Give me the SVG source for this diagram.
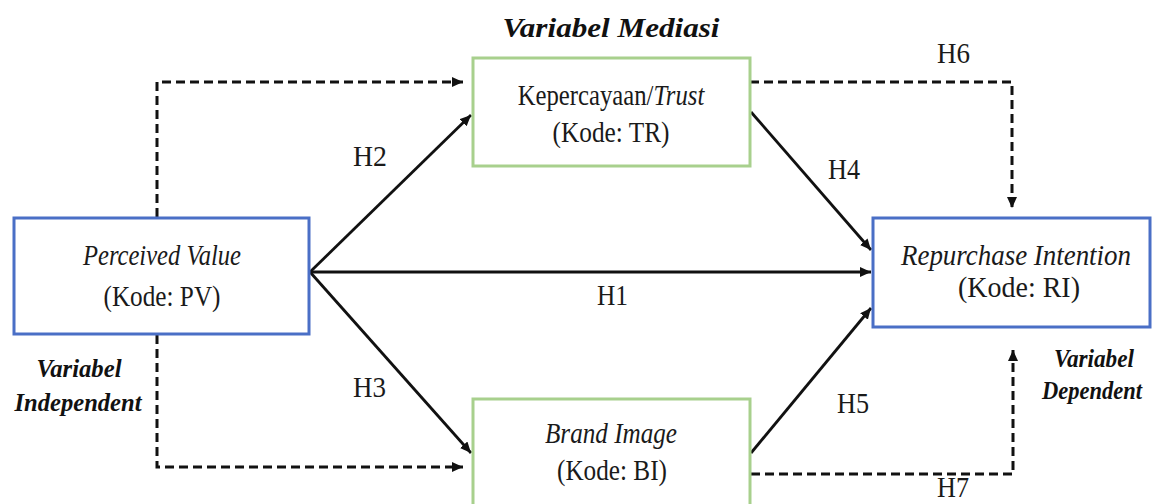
<svg xmlns="http://www.w3.org/2000/svg" width="1155" height="504" viewBox="0 0 1155 504" font-family="Liberation Serif, Tinos, Times New Roman, serif">
<style>
.bg{fill:#ffffff}
.blue{fill:#ffffff;stroke:#4a6fc6;stroke-width:3}
.green{fill:#ffffff;stroke:#a8d08d;stroke-width:3}
text{font-family:'Liberation Serif',Tinos,'Times New Roman',serif}
.t{font-size:30px;fill:#1a1a1a;text-anchor:middle}
.i{font-style:italic}
.lbl{font-size:26px;font-weight:bold;font-style:italic;fill:#111;text-anchor:middle}
.h{font-size:30px;fill:#1a1a1a}
.solid{fill:none;stroke:#111;stroke-width:2.8}
.dash{fill:none;stroke:#111;stroke-width:3;stroke-dasharray:9 5}
</style>
<defs>
<marker id="ah" markerUnits="userSpaceOnUse" markerWidth="12" markerHeight="10" refX="11" refY="5" orient="auto">
<path d="M0,0 L11,5 L0,10 z" fill="#111"/>
</marker>
</defs>
<rect class="bg" x="0" y="0" width="1155" height="504"/>
<g id="connectors">
<path class="dash" d="M157,217 V82 H463" marker-end="url(#ah)"/>
<path class="dash" d="M750,82 H1012 V208" marker-end="url(#ah)"/>
<path class="dash" d="M157,335 V467 H463" marker-end="url(#ah)"/>
<path class="dash" d="M751,474 H1013 V350" marker-end="url(#ah)"/>
<path class="solid" d="M310,272 L471,115" marker-end="url(#ah)"/>
<path class="solid" d="M310,272 L871,272" marker-end="url(#ah)"/>
<path class="solid" d="M310,272 L471,453" marker-end="url(#ah)"/>
<path class="solid" d="M751,112 L871,250" marker-end="url(#ah)"/>
<path class="solid" d="M751,453 L871,308" marker-end="url(#ah)"/>
</g>
<g id="node-pv">
<rect class="blue" x="14" y="218" width="295" height="116"/>
<text class="t i" x="162" y="265" textLength="158" lengthAdjust="spacingAndGlyphs">Perceived Value</text>
<text class="t" x="162" y="306" textLength="117" lengthAdjust="spacingAndGlyphs">(Kode: PV)</text>
</g>
<g id="node-tr">
<rect class="green" x="473" y="58" width="277" height="108"/>
<text class="t" transform="translate(611,105) scale(0.824,1)" x="0" y="0">Kepercayaan/<tspan class="i">Trust</tspan></text>
<text class="t" x="611" y="142" textLength="117" lengthAdjust="spacingAndGlyphs">(Kode: TR)</text>
</g>
<g id="node-ri">
<rect class="blue" x="873" y="218" width="277" height="109"/>
<text class="t i" x="1016" y="265" textLength="230" lengthAdjust="spacingAndGlyphs">Repurchase Intention</text>
<text class="t" x="1019" y="297" textLength="122" lengthAdjust="spacingAndGlyphs">(Kode: RI)</text>
</g>
<g id="node-bi">
<rect class="green" x="473" y="399" width="277" height="112"/>
<text class="t i" x="611" y="443" textLength="132" lengthAdjust="spacingAndGlyphs">Brand Image</text>
<text class="t" x="612" y="480" textLength="110" lengthAdjust="spacingAndGlyphs">(Kode: BI)</text>
</g>
<g id="labels">
<text class="lbl" x="611" y="37" textLength="217" lengthAdjust="spacingAndGlyphs" style="font-size:28px">Variabel Mediasi</text>
<text class="lbl" x="79" y="377" textLength="85" lengthAdjust="spacingAndGlyphs">Variabel</text>
<text class="lbl" x="78" y="411" textLength="127" lengthAdjust="spacingAndGlyphs">Independent</text>
<text class="lbl" x="1094" y="367" textLength="80" lengthAdjust="spacingAndGlyphs">Variabel</text>
<text class="lbl" x="1092" y="399" textLength="100" lengthAdjust="spacingAndGlyphs">Dependent</text>
<text class="h" x="937" y="63" textLength="33" lengthAdjust="spacingAndGlyphs">H6</text>
<text class="h" x="353" y="166" textLength="34" lengthAdjust="spacingAndGlyphs">H2</text>
<text class="h" x="828" y="179" textLength="32" lengthAdjust="spacingAndGlyphs">H4</text>
<text class="h" x="597" y="305" textLength="31" lengthAdjust="spacingAndGlyphs">H1</text>
<text class="h" x="353" y="397" textLength="33" lengthAdjust="spacingAndGlyphs">H3</text>
<text class="h" x="837" y="413" textLength="32" lengthAdjust="spacingAndGlyphs">H5</text>
<text class="h" x="937" y="497" textLength="32" lengthAdjust="spacingAndGlyphs">H7</text>
</g>
</svg>
